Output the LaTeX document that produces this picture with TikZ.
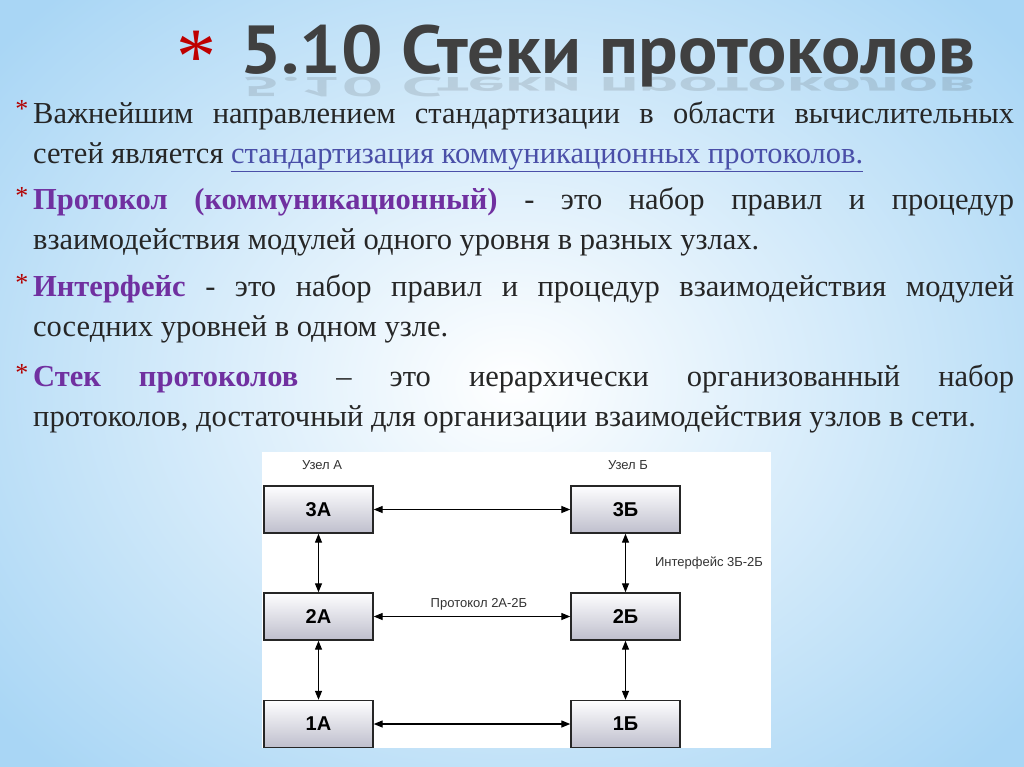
\documentclass[tikz,border=0pt]{standalone}
\usepackage{fontspec}
\setmainfont{Liberation Serif}
\newfontfamily\sansf{Liberation Sans}
\newfontfamily\titlef{PT Sans}
\usetikzlibrary{arrows.meta}
\definecolor{purp}{HTML}{7030A0}
\definecolor{linkc}{HTML}{4A4FA8}
\definecolor{bgblue}{HTML}{A9D6F5}
\definecolor{txt}{HTML}{262626}
\tikzset{
 para/.style={anchor=north west,text width=981pt,align=justify,inner sep=0pt,font=\fontsize{30.5}{40}\selectfont,text=txt},
 star/.style={anchor=north,inner sep=0pt,text=red!70!black,font=\fontsize{26}{26}\selectfont},
 lvl/.style={draw=black!85,line width=1.4pt,minimum width=109pt,minimum height=47pt,top color=white!90!blue!5,bottom color=blue!12!gray!45,font=\sansf\bfseries\fontsize{20}{20}\selectfont},
 lab/.style={font=\sansf\fontsize{13}{13}\selectfont,text=black!80,inner sep=1pt},
 conn/.style={{Triangle[length=9pt,width=7pt]}-{Triangle[length=9pt,width=7pt]},line width=1.3pt},
}
\begin{document}
\begin{tikzpicture}[x=1pt,y=-1pt]
\useasboundingbox (0,0) rectangle (1024,767);
\shade[inner color=white,outer color=bgblue] (-150,-150) rectangle (1174,917);
% title
\node[anchor=base,text=red!75!black,font=\fontsize{80}{80}\selectfont] (ast) at (196,84) {*};
\node[anchor=base west,inner sep=0pt,text=black!75,xscale=1.08,font=\titlef\bfseries\fontsize{68}{68}\selectfont] (title) at (240,74) {5.10 Стеки протоколов};
\node[anchor=base west,inner sep=0pt,text=black!75,opacity=0.15,xscale=1.08,yscale=-0.4,font=\titlef\bfseries\fontsize{68}{68}\selectfont] (refl) at (240,78) {5.10 Стеки протоколов};
% bullets
\node[star] (s1) at (22,100) {*};
\node[para] (p1) at (33,101) {Важнейшим направлением стандартизации в области вычислительных\linebreak сетей является {\color{linkc}\underline{стандартизация коммуникационных протоколов.}}};
\node[star] (s2) at (22,187) {*};
\node[para] (p2) at (33,187) {{\color{purp}\bfseries Протокол (коммуникационный)} - это набор правил и процедур\linebreak взаимодействия модулей одного уровня в разных узлах.};
\node[star] (s3) at (22,274) {*};
\node[para] (p3) at (33,274) {{\color{purp}\bfseries Интерфейс} - это набор правил и процедур взаимодействия модулей\linebreak соседних уровней в одном узле.};
\node[star] (s4) at (22,364) {*};
\node[para] (p4) at (33,364) {{\color{purp}\bfseries Стек протоколов} – это иерархически организованный набор\linebreak протоколов, достаточный для организации взаимодействия узлов в сети.};
% diagram
\fill[white] (262,452) rectangle (771,748);
\node[lab] (ua) at (322,465) {Узел А};
\node[lab] (ub) at (628,465) {Узел Б};
\node[lvl] (a3) at (318.5,509.5) {3А};
\node[lvl] (b3) at (625.5,509.5) {3Б};
\node[lvl] (a2) at (318.5,616.5) {2А};
\node[lvl] (b2) at (625.5,616.5) {2Б};
\node[lvl] (a1) at (318.5,724) {1А};
\node[lvl] (b1) at (625.5,724) {1Б};
\draw[conn] (a3) -- (b3);
\draw[conn] (a2) -- (b2);
\draw[conn] (a1) -- (b1);
\draw[conn] (a3) -- (a2);
\draw[conn] (a2) -- (a1);
\draw[conn] (b3) -- (b2);
\draw[conn] (b2) -- (b1);
\node[lab] (pr) at (479,604) {Протокол 2А-2Б};
\node[lab] (if) at (709,563) {Интерфейс 3Б-2Б};
\end{tikzpicture}
\end{document}
